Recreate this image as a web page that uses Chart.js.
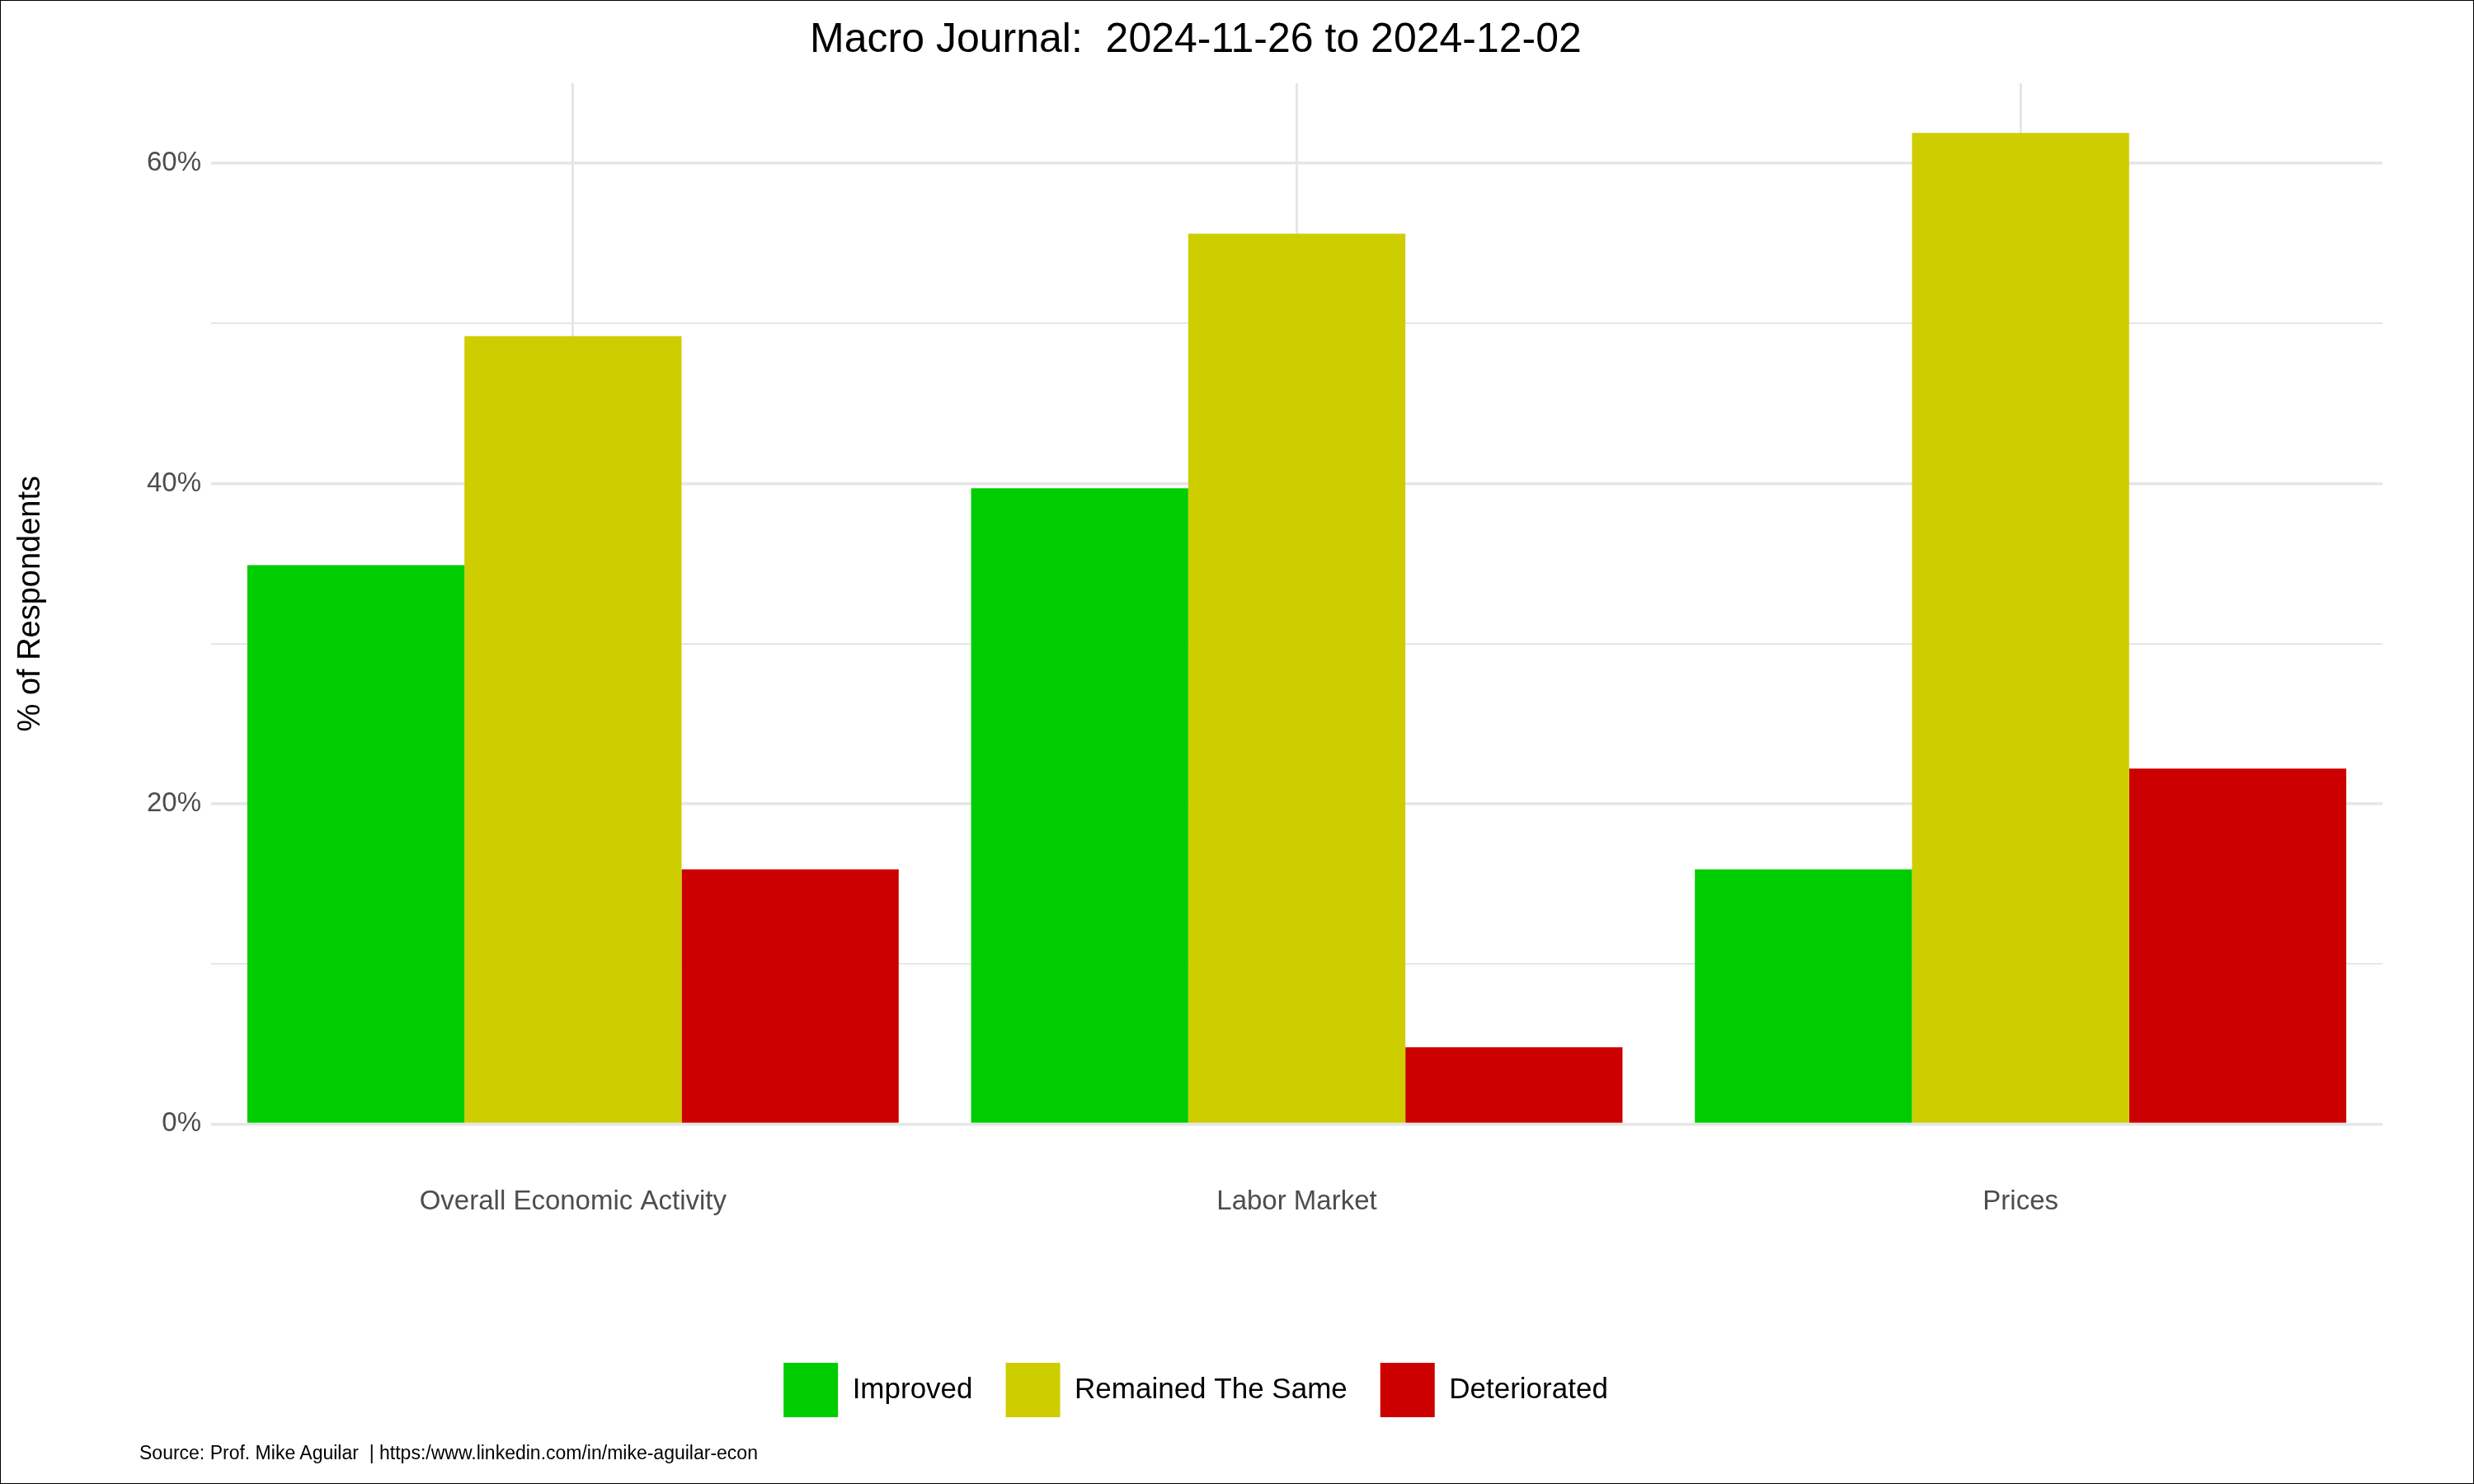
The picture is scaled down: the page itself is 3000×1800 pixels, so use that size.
<!DOCTYPE html>
<html>
<head>
<meta charset="utf-8">
<script src="https://cdn.jsdelivr.net/npm/chart.js@4"></script>
<style>
  html, body { margin: 0; padding: 0; background: #fff; }
  #wrap { position: relative; width: 2998px; height: 1798px; border: 1px solid #000; }
  #source { position: absolute; left: 168px; top: 1748px; font: 23px 'Liberation Sans', Arial, sans-serif; color: #000; white-space: pre; }
</style>
</head>
<body>
<div id="wrap">
  <canvas id="barChart" width="2998" height="1798"></canvas>
  <div id="source">Source: Prof. Mike Aguilar  | https:/www.linkedin.com/in/mike-aguilar-econ</div>
</div>
<script>
const categories = ['Overall Economic Activity', 'Labor Market', 'Prices'];
const improved = [34.9, 39.7, 15.9];
const remainedSame = [49.2, 55.6, 61.9];
const deteriorated = [15.9, 4.8, 22.2];
const seriesNames = ['Improved', 'Remained The Same', 'Deteriorated'];
const seriesColors = ['#00CD00', '#CDCD00', '#CD0000'];

const FONT = "'Liberation Sans', Arial, sans-serif";
const ctx = document.getElementById('barChart').getContext('2d');

new Chart(ctx, {
    type: 'bar',
    data: {
        labels: categories,
        datasets: [improved, remainedSame, deteriorated].map((d, i) => ({
            label: seriesNames[i],
            data: d,
            backgroundColor: seriesColors[i],
            categoryPercentage: 0.9,
            barPercentage: 1.0
        }))
    },
    options: {
        responsive: false,
        animation: false,
        devicePixelRatio: 1,
        layout: { padding: { left: 10, right: 110, top: 10, bottom: 70 } },
        plugins: {
            tooltip: { enabled: false },
            title: {
                display: true,
                text: 'Macro Journal:  2024-11-26 to 2024-12-02',
                color: '#000',
                font: { family: FONT, size: 50, weight: 'normal' },
                padding: { top: 8, bottom: 22 }
            },
            legend: {
                position: 'bottom',
                labels: {
                    boxWidth: 66,
                    boxHeight: 66,
                    padding: 40,
                    color: '#000',
                    font: { family: FONT, size: 35 }
                }
            }
        },
        scales: {
            x: {
                grid: { offset: false, color: '#e6e6e6', lineWidth: 3, drawTicks: false },
                border: { display: false },
                ticks: { color: '#4d4d4d', padding: 75, font: { family: FONT, size: 33 } },
                afterFit: s => { s.height += 60; }
            },
            y: {
                min: 0,
                max: 65,
                afterBuildTicks: axis => {
                    axis.ticks = [0, 10, 20, 30, 40, 50, 60].map(v => ({ value: v }));
                },
                afterFit: s => { s.width = 245; },
                grid: {
                    color: '#e6e6e6',
                    lineWidth: c => (c.tick && c.tick.value % 20 === 0) ? 3.5 : 2,
                    drawTicks: false
                },
                border: { display: false },
                title: {
                    display: true,
                    text: '% of Respondents',
                    color: '#000',
                    font: { family: FONT, size: 38 },
                    padding: { bottom: 14 }
                },
                ticks: {
                    color: '#4d4d4d',
                    padding: 12,
                    font: { family: FONT, size: 33 },
                    callback: v => v % 20 === 0 ? v + '%' : ''
                }
            }
        }
    }
});
</script>
</body>
</html>
